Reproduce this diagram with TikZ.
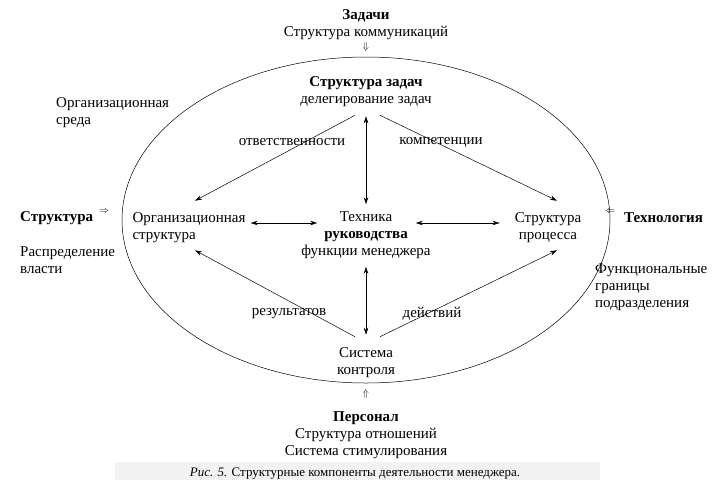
\documentclass[tikz,border=0pt]{standalone}
\usepackage{fontspec}
\setmainfont{Liberation Serif}
\usetikzlibrary{arrows.meta}

\begin{document}
\begin{tikzpicture}[x=1pt,y=-1pt,>={Stealth[length=7pt,width=4.5pt]},lbl/.style={align=center,inner sep=1pt,font=\fontsize{15}{17}\selectfont},note/.style={lbl,align=left,anchor=west},sym/.style={inner sep=0pt,font=\fontsize{10}{10}\selectfont},arrow/.style={->,line width=0.5pt},twoway/.style={<->,line width=0.5pt}]
\useasboundingbox (0,0) rectangle (718,480);
\fill[black!5] (115,462) rectangle (600,480);
\draw[line width=0.5pt] (366,220) ellipse [x radius=244,y radius=163];
% outside
\node[lbl] (tasksTop) at (366,24.5) {\textbf{Задачи}\\Структура коммуникаций};
\node[sym] (downArr) at (366,46.5) {$\Downarrow$};
\node[note] (env) at (55,113) {Организационная\\среда};
\node[note] (struct) at (19,218) {\textbf{Структура}};
\node[sym] (rArr) at (104,212) {$\Rightarrow$};
\node[note] (power) at (19,260) {Распределение\\власти};
\node[sym] (lArr) at (610,212) {$\Leftarrow$};
\node[note] (techno) at (623,218) {\textbf{Технология}};
\node[note] (func) at (594,287) {Функциональные\\границы\\подразделения};
\node[sym] (upArr) at (366,394) {$\Uparrow$};
\node[lbl] (staff) at (366,435.5) {\textbf{Персонал}\\Структура отношений\\Система стимулирования};
% inside
\node[lbl] (tasks) at (366,91.5) {\textbf{Структура задач}\\делегирование задач};
\node[lbl,align=left] (org) at (189,227.5) {Организационная\\структура};
\node[lbl] (tech) at (366,235.5) {Техника\\\textbf{руководства}\\функции менеджера};
\node[lbl] (proc) at (548,227.5) {Структура\\процесса};
\node[lbl] (ctrl) at (366,362.5) {Система\\контроля};
\node[lbl] (resp) at (292,142) {ответственности};
\node[lbl] (comp) at (441,142) {компетенции};
\node[lbl] (res) at (289,314) {результатов};
\node[lbl] (act) at (432,314) {действий};
% connectors
\draw[arrow] ([shift={(-11,7.5)}]tasks.south) -- ([shift={(6,-10.5)}]org.north);
\draw[arrow] ([shift={(14,7.5)}]tasks.south) -- ([shift={(9,-10.5)}]proc.north);
\draw[twoway] ([yshift=-8.5pt]tasks.south) -- ([yshift=6.5pt]tech.north);
\draw[twoway] ([shift={(4,-4.5)}]org.east) -- ([shift={(17,-12.5)}]tech.west);
\draw[twoway] ([shift={(-16,-12.5)}]tech.east) -- ([shift={(-14,-4.5)}]proc.west);
\draw[arrow] ([shift={(-11,-9.5)}]ctrl.north) -- ([shift={(6,6.5)}]org.south);
\draw[arrow] ([shift={(14,-9.5)}]ctrl.north) -- ([shift={(9,6.5)}]proc.south);
\draw[twoway] ([yshift=-6.5pt]tech.south) -- ([yshift=11.5pt]ctrl.north);
\node[font=\fontsize{13}{15}\selectfont] (cap) at (355,474) {\textit{Рис. 5.} Структурные компоненты деятельности менеджера.};
\end{tikzpicture}
\end{document}
